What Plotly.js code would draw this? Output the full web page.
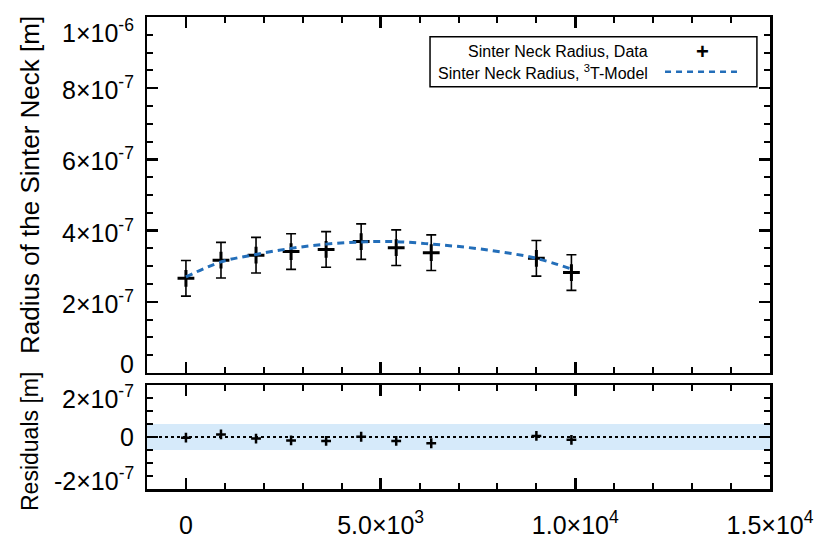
<!DOCTYPE html>
<html>
<head>
<meta charset="utf-8">
<script src="https://cdn.plot.ly/plotly-3.0.1.min.js"></script>
<style>html,body{margin:0;padding:0;background:#fff}#plot{width:815px;height:537px}</style>
</head>
<body>
<div id="plot"></div>
<script>
// ---- data ----
const timeX = [0, 900, 1800, 2700, 3600, 4500, 5400, 6300, 9000, 9900];
const neckRadius = [2.66e-7, 3.17e-7, 3.31e-7, 3.41e-7, 3.47e-7, 3.69e-7, 3.52e-7, 3.38e-7, 3.22e-7, 2.82e-7];
const neckError = [5.0e-8, 5.0e-8, 5.0e-8, 5.0e-8, 5.0e-8, 5.0e-8, 5.0e-8, 5.0e-8, 5.0e-8, 5.0e-8];
const modelX = [0, 900, 1800, 2700, 3600, 4500, 5400, 6300, 7200, 8100, 9000, 9900];
const modelY = [2.70e-7, 3.12e-7, 3.33e-7, 3.50e-7, 3.62e-7, 3.68e-7, 3.69e-7, 3.62e-7, 3.53e-7, 3.40e-7, 3.22e-7, 2.92e-7];
const residuals = [-2.5e-9, 1.0e-8, -6e-9, -1.3e-8, -1.5e-8, 1e-9, -1.5e-8, -2.4e-8, 4e-9, -1.1e-8];
const residualBand = 5e-8;

const xTickVals = [0, 5000, 10000, 15000];
const xTickText = ['0', '5.0×10<sup>3</sup>', '1.0×10<sup>4</sup>', '1.5×10<sup>4</sup>'];
const yTickVals = [0, 2e-7, 4e-7, 6e-7, 8e-7, 1e-6];
const yTickText = ['0', '2×10<sup>-7</sup>', '4×10<sup>-7</sup>', '6×10<sup>-7</sup>', '8×10<sup>-7</sup>', '1×10<sup>-6</sup>'];
const rTickVals = [-2e-7, 0, 2e-7];
const rTickText = ['-2×10<sup>-7</sup>', '0', '2×10<sup>-7</sup>'];

const legendLabels = ['Sinter Neck Radius, Data', 'Sinter Neck Radius, <sup>3</sup>T-Model'];
const yTitle = 'Radius of the Sinter Neck [m]';
const rTitle = 'Residuals [m]';

const FONT = 'Liberation Sans, Arial, Helvetica, sans-serif';
const BLUE = 'rgb(35,110,185)';
const TICKSIZE = 25;

const traces = [
  {
    x: timeX, y: neckRadius, type: 'scatter', mode: 'markers',
    xaxis: 'x', yaxis: 'y',
    marker: {symbol: 'cross-thin', size: 12, color: 'black', line: {color: 'black', width: 3}},
    error_y: {type: 'data', array: neckError, visible: true, color: 'black', thickness: 1.6, width: 5},
    showlegend: false
  },
  {
    x: modelX, y: modelY, type: 'scatter', mode: 'lines',
    xaxis: 'x', yaxis: 'y',
    line: {color: BLUE, width: 3, dash: '7px,5px', shape: 'spline'},
    showlegend: false
  },
  {
    x: timeX, y: residuals, type: 'scatter', mode: 'markers',
    xaxis: 'x2', yaxis: 'y2',
    marker: {symbol: 'cross-thin', size: 7, color: 'black', line: {color: 'black', width: 2.5}},
    showlegend: false
  }
];

const axisCommon = {
  showline: true, linecolor: 'black', linewidth: 2.5, mirror: 'allticks',
  ticks: 'inside', ticklen: 11, tickwidth: 2.5, tickcolor: 'black',
  showgrid: false, zeroline: false,
  tickfont: {family: FONT, size: TICKSIZE, color: 'black'}
};
const minorY = (d) => ({dtick: d, ticks: 'inside', ticklen: 6, tickwidth: 2, tickcolor: 'black', showgrid: false});

// y tick labels drawn as annotations so that the end labels can sit inside the frame, as in the reference
const annotations = [];
yTickVals.forEach((v, i) => {
  let shift = 0;
  if (i === yTickVals.length - 1) shift = -14;
  if (i === 0) shift = 9;
  annotations.push({xref: 'paper', yref: 'y', x: 0, y: v, xanchor: 'right', yanchor: 'middle',
    xshift: -11, yshift: shift, text: yTickText[i], showarrow: false,
    font: {family: FONT, size: TICKSIZE, color: 'black'}});
});
rTickVals.forEach((v, i) => {
  let shift = 0;
  if (i === rTickVals.length - 1) shift = -12;
  if (i === 0) shift = 10;
  annotations.push({xref: 'paper', yref: 'y2', x: 0, y: v, xanchor: 'right', yanchor: 'middle',
    xshift: -11, yshift: shift, text: rTickText[i], showarrow: false,
    font: {family: FONT, size: TICKSIZE, color: 'black'}});
});
// axis titles
annotations.push({xref: 'paper', yref: 'y domain', x: 0, y: 0.5, xanchor: 'center', yanchor: 'middle',
  xshift: -117, yshift: 10, textangle: -90, text: yTitle, showarrow: false,
  font: {family: FONT, size: 26, color: 'black'}});
annotations.push({xref: 'paper', yref: 'y2 domain', x: 0, y: 0.5, xanchor: 'center', yanchor: 'middle',
  xshift: -117, yshift: -5, textangle: -90, text: rTitle, showarrow: false,
  font: {family: FONT, size: 23, color: 'black'}});
// legend
annotations.push({xref: 'paper', yref: 'paper', x: 0.8074, y: 0.9265, xanchor: 'right', yanchor: 'middle',
  text: legendLabels[0], showarrow: false, font: {family: FONT, size: 16, color: 'black'}});
annotations.push({xref: 'paper', yref: 'paper', x: 0.8074, y: 0.8842, xanchor: 'right', yanchor: 'middle',
  text: legendLabels[1], showarrow: false, font: {family: FONT, size: 16, color: 'black'}});
annotations.push({xref: 'paper', yref: 'paper', x: 0.8909, y: 0.9265, xanchor: 'center', yanchor: 'middle',
  text: '<b>+</b>', showarrow: false, font: {family: FONT, size: 22, color: 'black'}});

const layout = {
  width: 815, height: 537,
  margin: {l: 147, r: 45, t: 17, b: 48},
  paper_bgcolor: 'white', plot_bgcolor: 'white',
  showlegend: false,
  font: {family: FONT, color: 'black'},
  xaxis: Object.assign({}, axisCommon, {
    domain: [0, 1], anchor: 'y', range: [-1000, 15000],
    tickmode: 'array', tickvals: xTickVals, ticktext: xTickText,
    showticklabels: false, minor: minorY(1000)
  }),
  yaxis: Object.assign({}, axisCommon, {
    domain: [0.2458, 1], anchor: 'x', range: [0, 1e-6],
    tickmode: 'array', tickvals: yTickVals, showticklabels: false, minor: minorY(5e-8)
  }),
  xaxis2: Object.assign({}, axisCommon, {
    domain: [0, 1], anchor: 'y2', range: [-1000, 15000], matches: 'x',
    tickmode: 'array', tickvals: xTickVals, ticktext: xTickText,
    ticklabelstandoff: 12, minor: minorY(1000)
  }),
  yaxis2: Object.assign({}, axisCommon, {
    domain: [0, 0.2203], anchor: 'x2', range: [-2e-7, 2e-7],
    tickmode: 'array', tickvals: rTickVals, showticklabels: false, minor: minorY(5e-8)
  }),
  shapes: [
    {type: 'rect', xref: 'x2 domain', yref: 'y2', x0: 0, x1: 1, y0: -residualBand, y1: residualBand,
     fillcolor: 'rgb(214,234,250)', line: {width: 0}, layer: 'below'},
    {type: 'line', xref: 'x2 domain', yref: 'y2', x0: 0, x1: 1, y0: 0, y1: 0,
     line: {color: 'black', width: 2.2, dash: 'dot'}, layer: 'above'},
    {type: 'rect', xref: 'paper', yref: 'paper', x0: 0.4543, x1: 0.979, y0: 0.8523, y1: 0.9583,
     fillcolor: 'white', line: {color: 'black', width: 1.5}},
    {type: 'line', xref: 'paper', yref: 'paper', x0: 0.8315, x1: 0.947, y0: 0.8842, y1: 0.8842,
     line: {color: BLUE, width: 2.5, dash: '6px,5px'}}
  ],
  annotations: annotations
};

Plotly.newPlot('plot', traces, layout, {displayModeBar: false, staticPlot: true});
</script>
</body>
</html>
